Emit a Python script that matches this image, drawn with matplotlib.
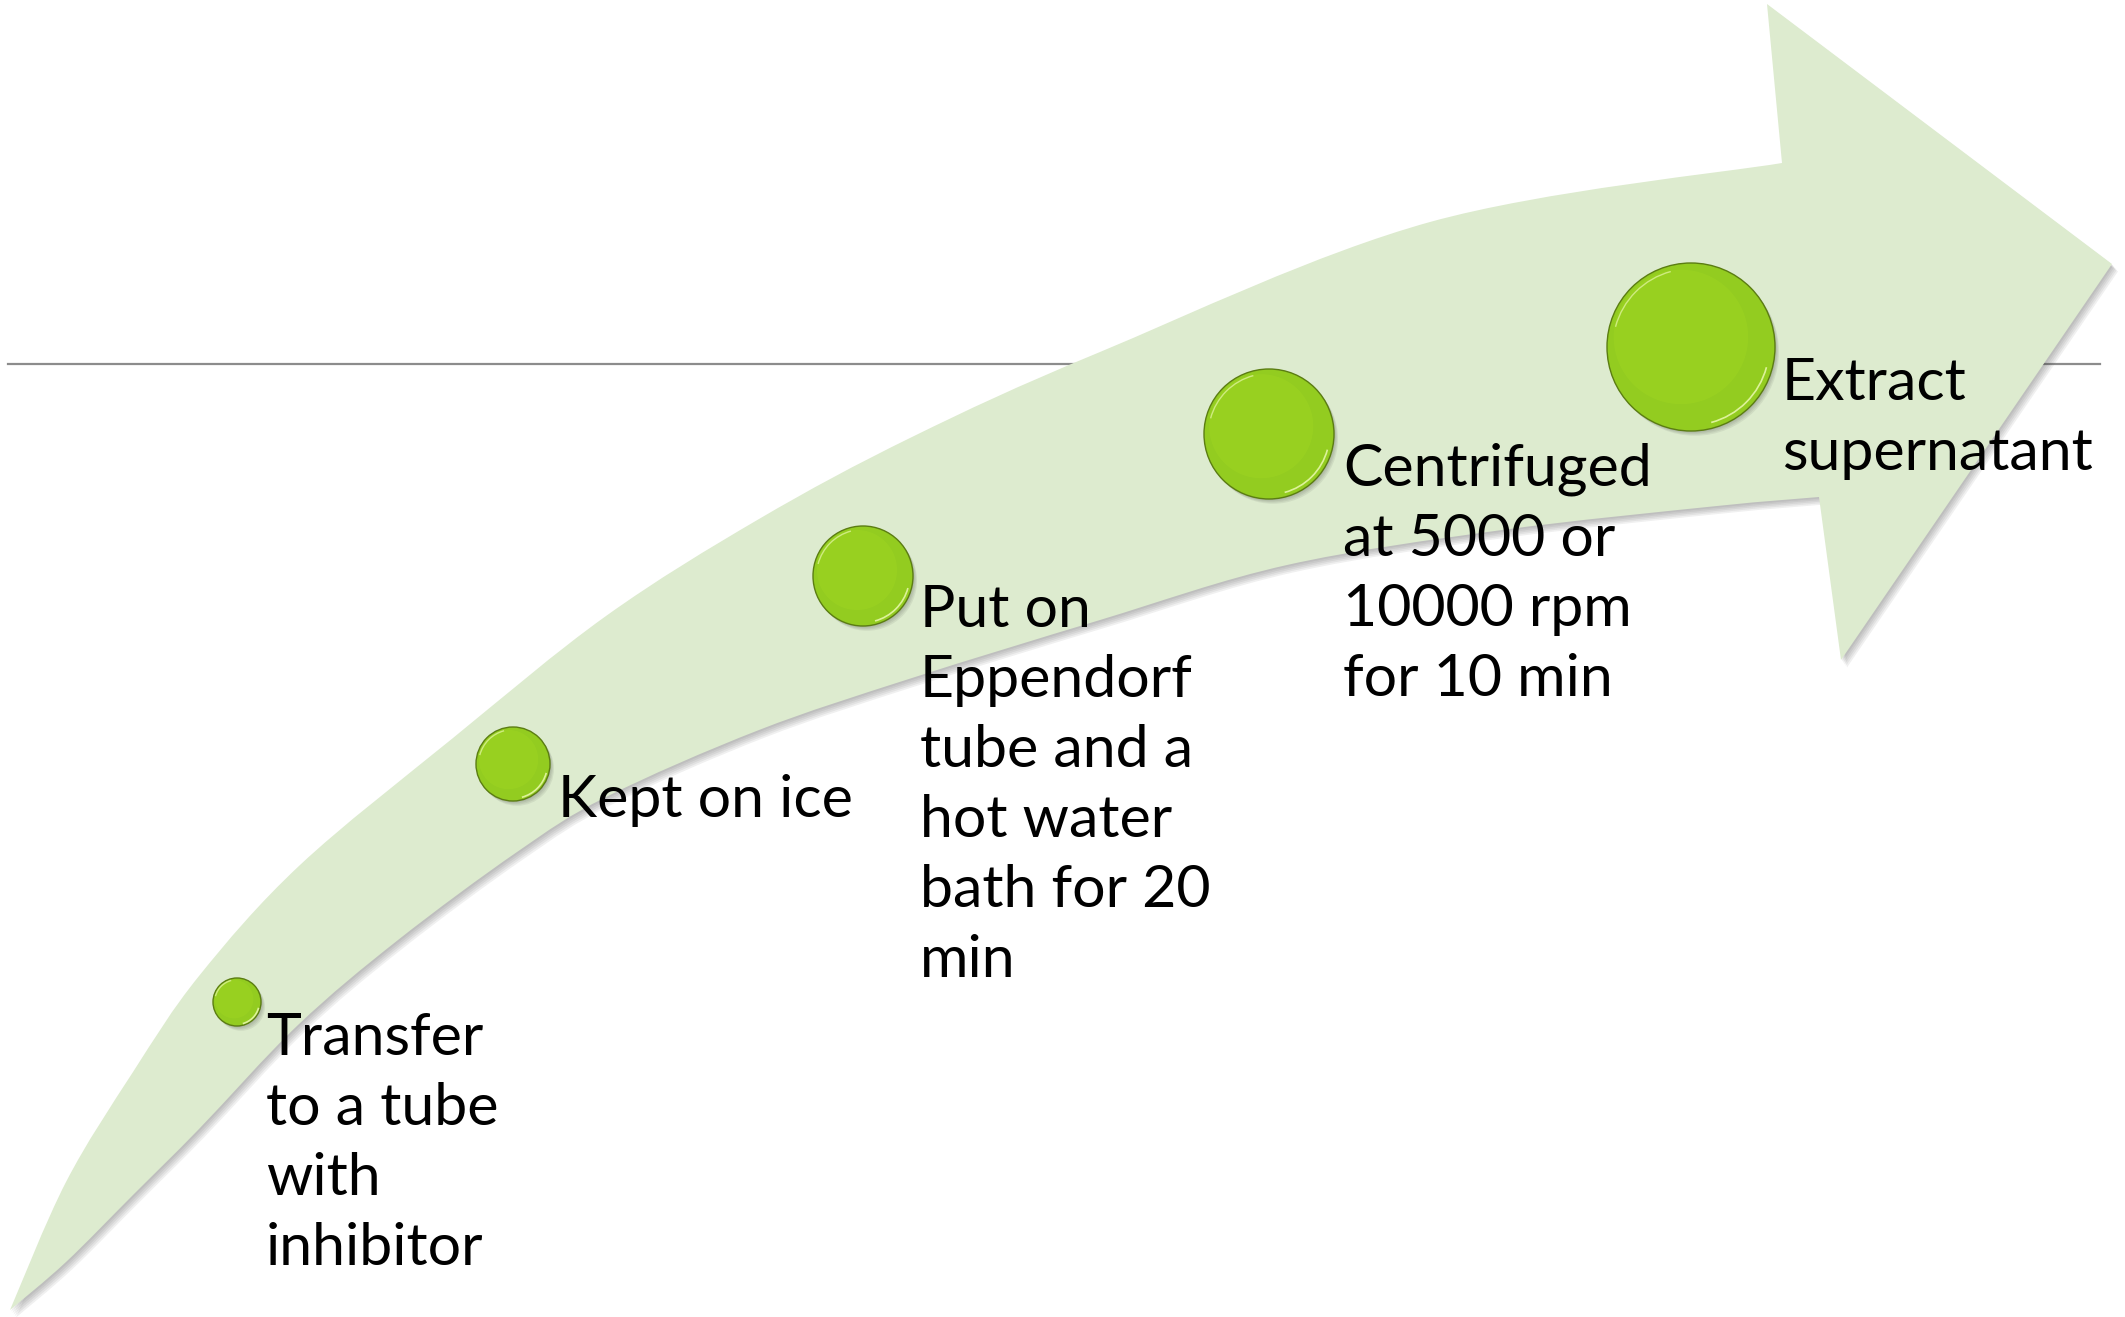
import numpy as np
import matplotlib.pyplot as plt
from matplotlib.path import Path
from matplotlib.patches import PathPatch, Circle, Arc

plt.rcParams['font.family'] = ['Lato', 'DejaVu Sans']

# process steps, one list of text lines per step
steps = [
    ["Transfer", "to a tube", "with", "inhibitor"],
    ["Kept on ice"],
    ["Put on", "Eppendorf", "tube and a", "hot water", "bath for 20", "min"],
    ["Centrifuged", "at 5000 or", "10000 rpm", "for 10 min"],
    ["Extract", "supernatant"],
]

# step markers (pixel space, y grows downward)
marker_x = [237, 513, 863, 1269, 1691]
marker_y = [1002, 764, 576, 434, 347]
marker_r = [24, 37, 50, 65, 84]

# first baseline and left edge of every label
label_x = [266, 558, 920, 1343, 1782]
label_y = [1055, 817, 627, 486, 400]
line_pitch = 70

# arrow outline: outer (upper) edge from the tail up to the head shoulder
outer_x = [10, 66, 133, 199, 300, 453, 606, 759, 912, 1100, 1430, 1782]
outer_y = [1310, 1182, 1072, 976, 865, 738, 616, 519, 437, 352, 222, 163]
# head corners: upper barb, tip, lower barb, lower shoulder
head_x = [1767, 2112, 1841, 1819]
head_y = [4, 264, 660, 497]
# inner (lower) edge from the lower shoulder back to the tail
inner_x = [1819, 1717, 1502, 1287, 1100, 912, 759, 606, 517, 398, 298, 199, 133, 66, 10]
inner_y = [497, 506, 530, 565, 620, 678, 730, 797, 852, 940, 1025, 1129, 1195, 1262, 1310]

W, H = 2125, 1317
fig = plt.figure(figsize=(W / 100, H / 100), dpi=100)
ax = fig.add_axes([0, 0, 1, 1])
ax.set_xlim(0, W)
ax.set_ylim(H, 0)
ax.axis('off')


def smooth_segments(xs, ys):
    # catmull-rom through the points, written as cubic bezier pieces
    p = np.column_stack([xs, ys]).astype(float)
    ext = np.vstack([p[0], p, p[-1]])
    verts, codes = [], []
    for i in range(1, len(ext) - 2):
        c1 = ext[i] + (ext[i + 1] - ext[i - 1]) / 6
        c2 = ext[i + 1] - (ext[i + 2] - ext[i]) / 6
        verts += [c1, c2, ext[i + 1]]
        codes += [Path.CURVE4] * 3
    return verts, codes


def arrow_path(dx=0, dy=0):
    verts = [(outer_x[0], outer_y[0])]
    codes = [Path.MOVETO]
    v, c = smooth_segments(outer_x, outer_y)
    verts += v
    codes += c
    for hx, hy in zip(head_x, head_y):
        verts.append((hx, hy))
        codes.append(Path.LINETO)
    v, c = smooth_segments(inner_x, inner_y)
    verts += v
    codes += c
    verts.append((0, 0))
    codes.append(Path.CLOSEPOLY)
    verts = np.array(verts, dtype=float) + [dx, dy]
    return Path(verts, codes)


# thin grey rule running behind the arrow
ax.plot([8, 2100], [364, 364], color='#8c8c8c', lw=1.6, zorder=1)

# soft shadow under the arrow
for k in range(1, 6):
    ax.add_patch(PathPatch(arrow_path(k * 1.2, k * 1.5), facecolor='#404040',
                           edgecolor='none', alpha=0.08, zorder=2))
ax.add_patch(PathPatch(arrow_path(), facecolor='#ddebcf', edgecolor='none', zorder=3))

# step markers
for cx, cy, r in zip(marker_x, marker_y, marker_r):
    for k in range(1, 5):
        ax.add_patch(Circle((cx + k, cy + k * 1.2), r, facecolor='#303030',
                            edgecolor='none', alpha=0.08, zorder=4))
    ax.add_patch(Circle((cx, cy), r, facecolor='#93cc20', edgecolor='#5b7d12',
                        lw=1.0, zorder=5))
    ax.add_patch(Circle((cx - r * 0.12, cy - r * 0.12), r * 0.8, facecolor='#9dd421',
                        edgecolor='none', alpha=0.6, zorder=5))
    ax.add_patch(Arc((cx, cy), 2 * r * 0.93, 2 * r * 0.93, theta1=15, theta2=75,
                     color='#e6f7a8', lw=1.2, alpha=0.9, zorder=6))
    ax.add_patch(Arc((cx, cy), 2 * r * 0.93, 2 * r * 0.93, theta1=195, theta2=255,
                     color='#e6f7a8', lw=1.0, alpha=0.7, zorder=6))

# step labels
for lines, lx, ly in zip(steps, label_x, label_y):
    for i, line in enumerate(lines):
        ax.text(lx, ly + i * line_pitch, line, fontsize=42.5, color='black',
                ha='left', va='baseline', zorder=7)

fig.savefig('out.png', dpi=100, facecolor='white')
